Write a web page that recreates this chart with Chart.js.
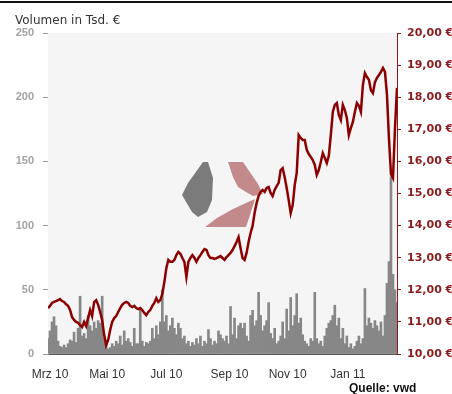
<!DOCTYPE html>
<html>
<head>
<meta charset="utf-8">
<script src="https://cdn.jsdelivr.net/npm/chart.js@4/dist/chart.umd.min.js"></script>
<style>
  body { margin: 0; background: #fff; }
  #wrap { position: relative; width: 452px; height: 394px; }
  #topLine { position: absolute; left: 0; top: 1px; width: 452px; height: 2px; background: #111; }
  #volTitle { position: absolute; left: 15px; top: 13px; font: 12px "DejaVu Sans", sans-serif; color: #333; line-height: 14px; }
  #source { position: absolute; left: 349px; top: 381px; font: bold 12px "Liberation Sans", Arial, sans-serif; color: #111; line-height: 14px; }
</style>
</head>
<body>
<div id="wrap">
  <canvas id="chart" width="452" height="394"></canvas>
  <div id="topLine"></div>
  <div id="volTitle">Volumen in Tsd. €</div>
  <div id="source">Quelle: vwd</div>
</div>
<script>
// Month labels on the time axis and their positions (in sample index units)
const monthLabels = ['Mrz 10', 'Mai 10', 'Jul 10', 'Sep 10', 'Nov 10', 'Jan 11'];
const monthPos = [1, 29.5, 59, 90.5, 119.5, 149.5];

// Share price in EUR (right axis), one sample every ~2 days, Mar 2010 - Feb 2011
const price = [
  11.43, 11.50, 11.59, 11.62, 11.65, 11.68, 11.71, 11.65, 11.62, 11.55,
  11.50, 11.37, 11.15, 11.06, 11.00, 10.97, 10.90, 10.84, 11.00, 10.87,
  11.12, 11.37, 11.18, 11.62, 11.68, 11.53, 11.31, 11.06, 10.59, 10.28,
  10.44, 10.75, 11.00, 11.12, 11.18, 11.31, 11.43, 11.53, 11.59, 11.62,
  11.59, 11.50, 11.46, 11.50, 11.43, 11.40, 11.43, 11.37, 11.28, 11.21,
  11.31, 11.37, 11.50, 11.59, 11.74, 11.62, 11.68, 11.87, 12.24, 12.68,
  12.93, 12.87, 12.87, 12.93, 13.08, 13.18, 13.12, 12.99, 12.87, 12.40,
  12.87, 12.99, 13.08, 12.99, 12.87, 12.99, 13.08, 13.18, 13.27, 13.24,
  13.08, 12.99, 12.99, 12.96, 12.99, 13.02, 13.05, 12.99, 12.93, 13.02,
  13.08, 13.15, 13.24, 13.36, 13.49, 13.64, 13.30, 12.99, 12.93, 13.15,
  13.49, 13.77, 13.99, 14.39, 14.70, 14.92, 15.05, 15.11, 15.05, 15.17,
  15.20, 15.02, 14.92, 15.11, 15.23, 15.33, 15.73, 15.79, 15.51, 15.17,
  14.80, 14.39, 14.64, 15.26, 15.64, 16.82, 16.73, 16.67, 16.67, 16.36,
  16.23, 16.14, 16.04, 15.89, 15.58, 15.73, 15.98, 16.26, 16.11, 15.95,
  16.17, 16.82, 17.54, 17.76, 17.82, 17.45, 17.29, 17.76, 17.60, 17.35,
  16.82, 17.04, 17.23, 17.54, 17.82, 17.73, 17.54, 18.38, 18.75, 18.63,
  18.54, 18.22, 18.13, 18.47, 18.60, 18.69, 18.79, 18.91, 18.79, 18.07,
  16.70, 15.60, 15.48, 17.04, 18.29
];

// Trading volume in thousand EUR (left axis)
const volume = [
  12, 18, 25, 29, 22, 10, 6, 5, 7, 5,
  8, 11, 10, 17, 9, 20, 45, 14, 16, 12,
  30, 22, 18, 25, 20, 26, 24, 45, 12, 8,
  4, 5, 8, 6, 10, 8, 14, 7, 18, 10,
  12, 9, 6, 20, 8, 8, 36, 10, 6, 9,
  8, 10, 20, 12, 22, 15, 25, 50, 25, 30,
  18, 22, 28, 20, 15, 24, 20, 12, 14, 8,
  10, 6, 9, 7, 12, 8, 14, 6, 10, 8,
  19, 12, 7, 10, 8, 18, 15, 12, 10, 14,
  8, 37, 15, 28, 12, 22, 24, 20, 24, 14,
  10, 30, 34, 22, 26, 48, 30, 18, 22, 26,
  40, 16, 12, 20, 8, 10, 14, 25, 12, 35,
  18, 44, 22, 30, 47, 24, 28, 15, 10, 8,
  6, 12, 10, 48, 12, 8, 10, 6, 14, 20,
  24, 26, 30, 38, 22, 28, 12, 20, 8, 14,
  5, 8, 4, 6, 10, 14, 8, 12, 51, 22,
  28, 24, 20, 26, 22, 18, 25, 14, 30, 55,
  72, 138, 62, 50, 40
];

const volTicks = [0, 50, 100, 150, 200, 250];
const priceMin = 10;
const priceMax = 20;

// Plot background + faint logo behind the data
const backdrop = {
  id: 'backdrop',
  beforeDatasetsDraw(chart) {
    const { ctx, chartArea: a } = chart;
    ctx.save();
    ctx.fillStyle = '#f5f5f5';
    ctx.fillRect(a.left, a.top, a.right - a.left, a.bottom - a.top);

    // grey part of the logo
    ctx.fillStyle = '#7b7b7b';
    poly(ctx, [[203, 162], [208, 162], [213, 178], [212, 200], [207, 212], [198, 217], [192, 212], [182, 195], [188, 183]]);
    // red chevron of the logo
    ctx.fillStyle = '#c28a8a';
    poly(ctx, [[228, 162], [243, 162], [258, 184], [263, 194], [253, 196], [246, 192], [238, 187], [233, 177]]);
    poly(ctx, [[255, 199], [250, 215], [246, 227], [205, 227], [217, 218], [233, 209], [246, 203]]);
    ctx.restore();
  }
};

function poly(ctx, pts) {
  ctx.beginPath();
  pts.forEach((p, i) => i ? ctx.lineTo(p[0], p[1]) : ctx.moveTo(p[0], p[1]));
  ctx.closePath();
  ctx.fill();
}

function euro(v) {
  return v.toFixed(2).replace('.', ',') + ' €';
}

new Chart(document.getElementById('chart'), {
  type: 'bar',
  data: {
    datasets: [
      {
        type: 'line',
        data: price.map((p, i) => ({ x: i, y: p })),
        yAxisID: 'y1',
        borderColor: '#8b0000',
        borderWidth: 2.5,
        pointRadius: 0,
        tension: 0,
        order: 0
      },
      {
        type: 'bar',
        data: volume.map((v, i) => ({ x: i, y: v })),
        yAxisID: 'y',
        backgroundColor: '#878787',
        barPercentage: 1,
        categoryPercentage: 1,
        order: 1
      }
    ]
  },
  options: {
    responsive: false,
    animation: false,
    layout: { padding: { top: 33, left: 0, right: 0, bottom: 0 } },
    plugins: { legend: { display: false }, tooltip: { enabled: false } },
    scales: {
      x: {
        type: 'linear',
        min: 0,
        max: price.length - 1,
        offset: false,
        grid: { display: false },
        border: { display: true, color: '#555', width: 1 },
        afterBuildTicks: s => { s.ticks = monthPos.map(v => ({ value: v })); },
        afterFit: s => { s.height = 40; },
        ticks: {
          autoSkip: false,
          maxRotation: 0,
          padding: 5,
          color: '#333',
          font: { family: 'Liberation Sans', size: 12 },
          callback: (v, i) => monthLabels[i]
        }
      },
      y: {
        position: 'left',
        min: 0,
        max: 250,
        grid: { drawOnChartArea: false, tickLength: 5, color: '#999' },
        border: { display: true, color: '#999', width: 1 },
        afterBuildTicks: s => { s.ticks = volTicks.map(v => ({ value: v })); },
        afterFit: s => { s.width = 48; },
        ticks: {
          padding: 9,
          color: '#a3a3a3',
          font: { family: 'Liberation Sans', size: 11, weight: 'bold' }
        }
      },
      y1: {
        position: 'right',
        min: priceMin,
        max: priceMax,
        grid: { drawOnChartArea: false, tickLength: 4, color: '#8b1a1a' },
        border: { display: true, color: '#8b1a1a', width: 1 },
        afterFit: s => { s.width = 55; },
        ticks: {
          stepSize: 1,
          padding: 6,
          color: '#8b1a1a',
          font: { family: 'DejaVu Sans', size: 11, weight: 'bold' },
          callback: v => euro(v)
        }
      }
    }
  },
  plugins: [backdrop]
});
</script>
</body>
</html>
